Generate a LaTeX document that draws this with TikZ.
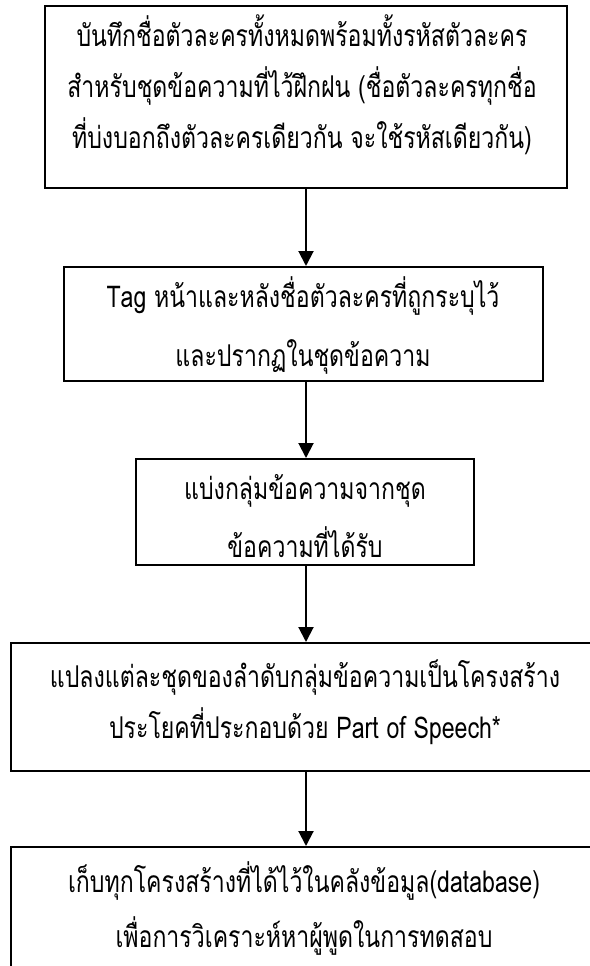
\documentclass[tikz,border=0pt]{standalone}
\usepackage{fontspec}
\usetikzlibrary{arrows.meta}
\newfontfamily\thaifont[Script=Thai, FakeStretch=0.77]{Loma}
\tikzset{
  box/.style={draw=black, line width=2pt, inner sep=0pt},
  txt/.style={anchor=base, inner sep=0pt, font=\thaifont\fontsize{30}{34}\selectfont},
  flow/.style={draw=black, line width=2pt, -{Triangle[width=15pt,length=15pt]}}
}
\begin{document}
\begin{tikzpicture}[x=1pt,y=-1pt]
\useasboundingbox (0,0) rectangle (589,966);
\fill[white] (0,0) rectangle (589,966);
\node[box, minimum width=522pt, minimum height=182pt] (b1) at (306,97) {};
\node[box, minimum width=479pt, minimum height=114pt] (b2) at (303.5,324) {};
\node[box, minimum width=338pt, minimum height=106pt] (b3) at (305,512) {};
\node[box, minimum width=591pt, minimum height=128pt] (b4) at (306,707) {};
\node[box, minimum width=591pt, minimum height=153pt] (b5) at (306,923.5) {};

\node[txt] (t11) at (302,47) {บันทึกชื่อตัวละครทั้งหมดพร้อมทั้งรหัสตัวละคร};
\node[txt] (t12) at (302,97) {สำหรับชุดข้อความที่ไว้ฝึกฝน (ชื่อตัวละครทุกชื่อ};
\node[txt] (t13) at (302,148) {ที่บ่งบอกถึงตัวละครเดียวกัน จะใช้รหัสเดียวกัน)};
\node[txt] (t21) at (303,307) {Tag หน้าและหลังชื่อตัวละครที่ถูกระบุไว้};
\node[txt] (t22) at (303,366) {และปรากฏในชุดข้อความ};
\node[txt] (t31) at (305,499) {แบ่งกลุ่มข้อความจากชุด};
\node[txt] (t32) at (305,557) {ข้อความที่ได้รับ};
\node[txt] (t41) at (305,687) {แปลงแต่ละชุดของลำดับกลุ่มข้อความเป็นโครงสร้าง};
\node[txt] (t42) at (305,738) {ประโยคที่ประกอบด้วย Part of Speech*};
\node[txt] (t51) at (304,892) {เก็บทุกโครงสร้างที่ได้ไว้ในคลังข้อมูล(database)};
\node[txt] (t52) at (304,947) {เพื่อการวิเคราะห์หาผู้พูดในการทดสอบ};

\draw[flow] (b1.south) -- (b1.south |- b2.north);
\draw[flow] (b2.south -| b1.south) -- (b1.south |- b3.north);
\draw[flow] (b3.south -| b1.south) -- (b1.south |- b4.north);
\draw[flow] (b4.south) -- (b5.north);
\end{tikzpicture}
\end{document}
